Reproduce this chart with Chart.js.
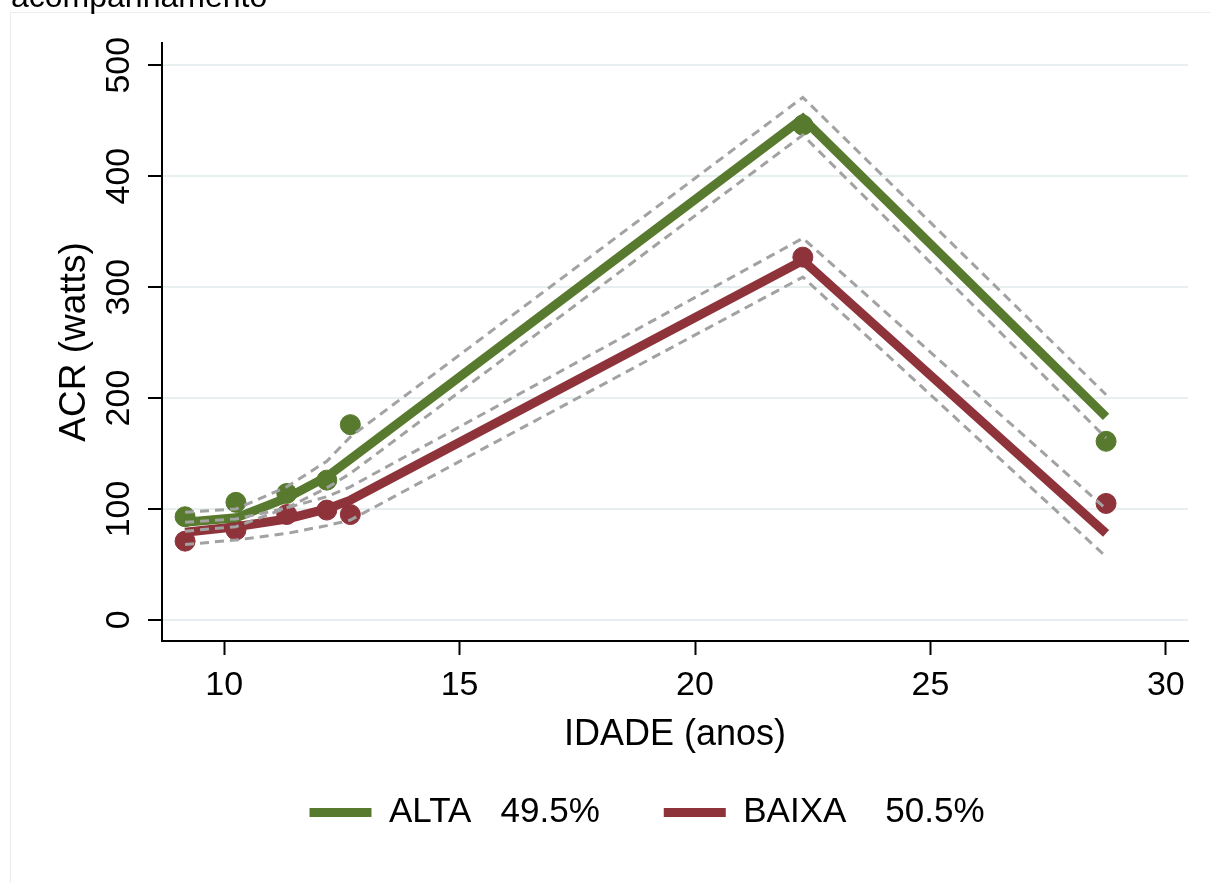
<!DOCTYPE html>
<html>
<head>
<meta charset="utf-8">
<script src="https://cdn.jsdelivr.net/npm/chart.js@4.4.1/dist/chart.umd.min.js"></script>
<style>
  html, body { margin: 0; padding: 0; background: #fff; }
  canvas { display: block; }
</style>
</head>
<body>
<canvas id="acrChart" width="1210" height="883"></canvas>
<script>
// idade media em cada momento do acompanhamento
const idade = [9.17, 10.25, 11.33, 12.18, 12.68, 22.29, 28.73];

// valores observados (pontos)
const altaObs = [93, 106, 114, 126, 176, 446, 161];
const baixaObs = [71, 81, 95, 99, 95, 327, 105];

// valores previstos e IC 95%
const altaFit = [88, 92, 110, 129, 145, 452, 183];
const altaSup = [97, 100, 120, 143, 165, 471, 203];
const altaInf = [80, 84, 101, 119, 132, 437, 164];
const baixaFit = [79, 84, 91, 100, 108, 324, 78];
const baixaSup = [88, 91, 101, 111, 120, 344, 100];
const baixaInf = [68, 72, 78, 85, 90, 309, 57];

const xTicks = [10, 15, 20, 25, 30];
const yTicks = [0, 100, 200, 300, 400, 500];

const VERDE = '#587a2e';
const VINHO = '#8f333b';
const CINZA = '#a2a2a2';
const FONTE = "'Liberation Sans', Arial, sans-serif";

const pts = (arr) => idade.map((x, i) => ({ x, y: arr[i] }));

const ic = (label, arr) => ({
  label,
  data: pts(arr),
  showLine: true,
  borderColor: CINZA,
  borderWidth: 3,
  borderDash: [9, 6],
  pointRadius: 0,
  fill: false
});

const ajuste = (label, arr, cor) => ({
  label,
  data: pts(arr),
  showLine: true,
  borderColor: cor,
  backgroundColor: cor,
  borderWidth: 9,
  pointRadius: 0,
  fill: false
});

const obs = (label, arr, cor) => ({
  label,
  data: pts(arr),
  showLine: false,
  backgroundColor: cor,
  borderColor: cor,
  borderWidth: 1,
  pointRadius: 10
});

// first dataset is drawn on top
const datasets = [
  ic('ALTA IC sup', altaSup),
  ic('ALTA IC inf', altaInf),
  ic('BAIXA IC sup', baixaSup),
  ic('BAIXA IC inf', baixaInf),
  ajuste('ALTA   49.5%', altaFit, VERDE),
  ajuste('BAIXA    50.5%', baixaFit, VINHO),
  obs('ALTA obs', altaObs, VERDE),
  obs('BAIXA obs', baixaObs, VINHO)
];
const legendIdx = [4, 5];

const moldura = {
  id: 'moldura',
  beforeDraw(chart) {
    const ctx = chart.ctx;
    ctx.save();
    ctx.fillStyle = '#fff';
    ctx.fillRect(0, 0, chart.width, chart.height);
    ctx.strokeStyle = '#ececec';
    ctx.lineWidth = 1;
    ctx.strokeRect(10.5, 12.5, 1300, 1000);
    ctx.fillStyle = '#000';
    ctx.font = '32px ' + FONTE;
    ctx.textBaseline = 'alphabetic';
    ctx.fillText('acompanhamento', 11, 7);
    ctx.restore();
  }
};

new Chart(document.getElementById('acrChart'), {
  type: 'scatter',
  data: { datasets },
  plugins: [moldura],
  options: {
    responsive: false,
    animation: false,
    layout: { padding: { left: 106, right: 22, top: 43, bottom: 43 } },
    plugins: {
      tooltip: { enabled: false },
      legend: {
        position: 'bottom',
        labels: {
          boxWidth: 62,
          boxHeight: 9,
          padding: 64,
          color: '#000',
          font: { size: 35, family: FONTE },
          filter: (item) => legendIdx.includes(item.datasetIndex),
          generateLabels: (chart) =>
            Chart.defaults.plugins.legend.labels.generateLabels(chart).map(l => ({
              ...l,
              fillStyle: chart.data.datasets[l.datasetIndex].borderColor,
              lineWidth: 0
            }))
        }
      }
    },
    scales: {
      x: {
        type: 'linear',
        min: 8.68,
        max: 30.47,
        afterBuildTicks: (s) => { s.ticks = xTicks.map(v => ({ value: v })); },
        afterFit: (s) => { s.height = 90; },
        ticks: { color: '#000', padding: 10, font: { size: 34, family: FONTE } },
        grid: { drawOnChartArea: false, tickLength: 14, tickColor: '#000', tickWidth: 2 },
        border: { color: '#000', width: 2 },
        title: {
          display: true,
          text: 'IDADE (anos)',
          color: '#000',
          font: { size: 36, family: FONTE },
          padding: { top: 0, bottom: -26 }
        }
      },
      y: {
        type: 'linear',
        min: -19,
        max: 520,
        afterBuildTicks: (s) => { s.ticks = yTicks.map(v => ({ value: v })); },
        afterFit: (s) => { s.width = 56; },
        ticks: {
          color: '#000',
          padding: 0,
          minRotation: 90,
          maxRotation: 90,
          crossAlign: 'center',
          font: { size: 34, family: FONTE }
        },
        grid: { color: '#e8eff1', lineWidth: 2, tickLength: 14, tickColor: '#000', tickWidth: 2 },
        border: { color: '#000', width: 2 },
        title: {
          display: true,
          text: 'ACR (watts)',
          color: '#000',
          font: { size: 37, family: FONTE },
          padding: { top: -53, bottom: 0 }
        }
      }
    }
  }
});
</script>
</body>
</html>
